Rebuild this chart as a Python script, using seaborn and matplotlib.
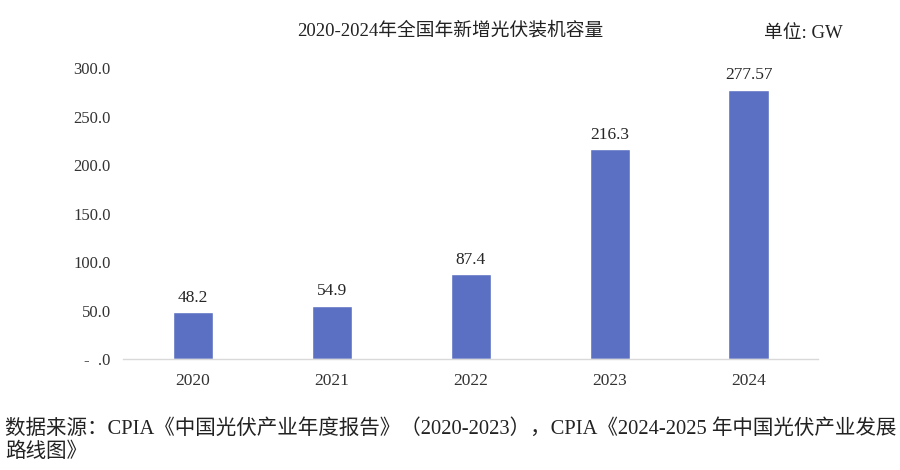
import matplotlib
matplotlib.use('Agg')
import matplotlib.pyplot as plt
import seaborn as sns
import pandas as pd

years = ['2020', '2021', '2022', '2023', '2024']
capacity = [48.2, 54.9, 87.4, 216.3, 277.57]
value_labels = ['48.2', '54.9', '87.4', '216.3', '277.57']
yticks = [0, 50, 100, 150, 200, 250, 300]
ytick_labels = ['-  .0', '50.0', '100.0', '150.0', '200.0', '250.0', '300.0']

sns.set_theme(style='white')
plt.rcParams['font.family'] = ['Liberation Serif', 'Noto Sans CJK SC', 'DejaVu Sans']

df = pd.DataFrame({'year': years, 'capacity': capacity})

fig = plt.figure(figsize=(9, 4.7), dpi=100)
ax = fig.add_axes([0.137, 0.236, 0.772, 0.619])
sns.barplot(data=df, x='year', y='capacity', color='#5B70C3', width=0.29,
            saturation=1, ax=ax)

for i, lab in enumerate(value_labels):
    ax.text(i, capacity[i] + 7, lab, ha='center', va='bottom', fontsize=12.5,
            color='#262626')

ax.set_ylim(0, 300)
ax.set_xlim(-0.5, 4.5)
ax.set_yticks(yticks)
ax.set_yticklabels(ytick_labels)
ax.tick_params(axis='y', labelsize=12, colors='#333333', length=0, pad=9)
ax.tick_params(axis='x', labelsize=12.5, colors='#333333', length=0, pad=10)
ax.set_xlabel('')
ax.set_ylabel('')
for s in ['top', 'right', 'left']:
    ax.spines[s].set_visible(False)
ax.spines['bottom'].set_color('#d9d9d9')
ax.spines['bottom'].set_linewidth(1)

fig.text(0.5, 0.935, '2020-2024年全国年新增光伏装机容量', ha='center', va='center',
         fontsize=13.5, color='#222222')
fig.text(0.849, 0.928, '单位: GW', ha='left', va='center', fontsize=13.5,
         color='#222222')
fig.text(0.006, 0.088, '数据来源：CPIA《中国光伏产业年度报告》（2020-2023），CPIA《2024-2025 年中国光伏产业发展',
         ha='left', va='center', fontsize=14.8, color='#222222')
fig.text(0.006, 0.037, '路线图》', ha='left', va='center', fontsize=14.8,
         color='#222222')

fig.savefig('out.png', dpi=100)
